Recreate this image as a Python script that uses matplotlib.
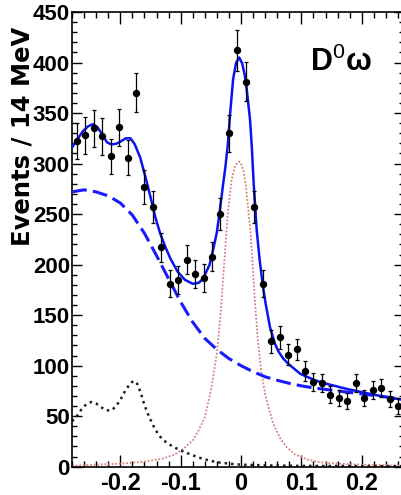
import numpy as np
import matplotlib
matplotlib.use('Agg')
import matplotlib.pyplot as plt
from matplotlib.ticker import MultipleLocator

# binned data, 14 MeV bins
bin_start = -0.272
bin_width = 0.014
counts = [322, 328, 335, 327, 307, 336, 306, 370, 277, 257,
          217, 181, 185, 205, 191, 187, 208, 250, 330, 412,
          381, 257, 181, 124, 128, 111, 116, 95, 84, 83,
          71, 68, 65, 83, 68, 76, 78, 67, 60]

# total fit (solid blue)
fit_x = [-0.280, -0.270, -0.262, -0.253, -0.245, -0.238, -0.230, -0.222, -0.215, -0.207,
         -0.199, -0.191, -0.183, -0.176, -0.167, -0.158, -0.150, -0.142, -0.134, -0.125,
         -0.117, -0.105, -0.093, -0.080, -0.070, -0.063, -0.052, -0.045, -0.040, -0.035,
         -0.030, -0.026, -0.022, -0.018, -0.013, -0.008, -0.003, 0.002, 0.006, 0.009,
         0.015, 0.018, 0.021, 0.026, 0.031, 0.036, 0.040, 0.048, 0.056, 0.062,
         0.070, 0.078, 0.086, 0.098, 0.109, 0.125, 0.142, 0.175, 0.214, 0.240, 0.270]
fit_y = [316, 325, 332, 337, 339, 336, 329, 321, 319, 319.5,
         322, 325, 325, 319, 306, 286, 267, 247, 231, 217,
         206, 193, 185, 181, 182, 186, 200, 218, 232, 254,
         278, 296, 318, 350, 384, 400, 405, 399, 388, 376,
         343, 315, 280, 234, 204, 180, 164, 138, 122, 114,
         107, 102, 98, 92, 89, 85, 82, 77, 72, 69, 66]

# combinatorial background (dashed blue)
bkg_x = [-0.28, -0.26, -0.24, -0.22, -0.20, -0.18, -0.16, -0.14, -0.12, -0.10,
         -0.08, -0.06, -0.04, -0.02, 0.00, 0.02, 0.04, 0.06, 0.08, 0.10,
         0.12, 0.14, 0.16, 0.18, 0.20, 0.22, 0.24, 0.27]
bkg_y = [272, 274, 272, 268, 261, 249, 231, 209, 186, 163,
         143, 127, 116, 107, 100, 94, 89, 85.5, 82.5, 80,
         78, 76.5, 75, 73.5, 72, 70.5, 69, 66.5]

# peaking background (black dotted)
peak_x = [-0.280, -0.272, -0.264, -0.256, -0.248, -0.240, -0.232, -0.224, -0.216, -0.208,
          -0.200, -0.192, -0.184, -0.178, -0.172, -0.166, -0.160, -0.152, -0.144, -0.136,
          -0.128, -0.120, -0.110, -0.100, -0.085, -0.070, -0.055, -0.040, -0.020, 0.000,
          0.050, 0.100, 0.270]
peak_y = [45, 50, 57, 62, 64, 62.5, 59, 56, 55.5, 59,
          66, 75, 82, 85, 82, 73, 61, 49, 39, 31,
          26, 22.5, 19, 16, 12.5, 9, 6.5, 4.5, 3, 2,
          1.2, 0.8, 0.5]

# signal (red dotted)
sig_x = [-0.280, -0.24, -0.20, -0.16, -0.13, -0.11, -0.095, -0.08, -0.07, -0.06,
         -0.05, -0.04, -0.034, -0.028, -0.022, -0.016, -0.010, -0.006, -0.003, 0.000,
         0.004, 0.008, 0.012, 0.016, 0.020, 0.024, 0.028, 0.034, 0.040, 0.046,
         0.053, 0.065, 0.076, 0.09, 0.11, 0.13, 0.16, 0.20, 0.27]
sig_y = [1, 2, 3, 5, 8, 12, 18, 26, 36, 49,
         75, 112, 150, 200, 250, 283, 297, 301, 302, 300,
         293, 278, 255, 230, 193, 155, 125, 92, 72, 58,
         43, 28, 19, 12, 7, 4.5, 3, 2, 1]

x_ticks = [-0.2, -0.1, 0, 0.1, 0.2]
x_tick_labels = ['-0.2', '-0.1', '0', '0.1', '0.2']

plt.rcParams['mathtext.fontset'] = 'custom'
plt.rcParams['mathtext.rm'] = 'Liberation Sans'
tick_font = ['Liberation Sans Narrow', 'Liberation Sans', 'DejaVu Sans']

W, H = 401, 495
fig = plt.figure(figsize=(W / 100, H / 100), dpi=100)
ax = fig.add_axes([72 / W, (H - 466.7) / H, 332 / W, (466.7 - 12) / H])

centers = bin_start + bin_width * np.arange(len(counts))
vals = np.array(counts, dtype=float)

ax.plot(sig_x, sig_y, color='#d9807f', lw=1.3, linestyle=(0, (1, 1)), zorder=2)
ax.plot(peak_x, peak_y, color='#202020', lw=1.8, linestyle=(0, (1, 1.6)), zorder=2)
ax.plot(bkg_x, bkg_y, color='#1a1aff', lw=2.2, linestyle=(0, (4.9, 2.0)), zorder=3)
ax.plot(fit_x, fit_y, color='#0a14f0', lw=1.8, zorder=4)
ax.errorbar(centers, vals, yerr=np.sqrt(vals), fmt='o', color='black', ms=4.3,
            elinewidth=0.9, capsize=1.6, capthick=0.9, zorder=5)

ax.set_xlim(-0.28, 0.27)
ax.set_ylim(0, 450)
ax.set_xticks(x_ticks)
ax.set_xticklabels(x_tick_labels)
ax.xaxis.set_minor_locator(MultipleLocator(0.02))
ax.yaxis.set_major_locator(MultipleLocator(50))
ax.yaxis.set_minor_locator(MultipleLocator(10))

ax.tick_params(axis='x', which='both', direction='in', top=True, bottom=True, pad=4)
ax.tick_params(axis='y', which='both', direction='in', left=True, right=True, pad=1.5)
ax.tick_params(axis='x', which='major', length=8.5, width=1)
ax.tick_params(axis='x', which='minor', length=4.5, width=1)
ax.tick_params(axis='y', which='major', length=7, width=1)
ax.tick_params(axis='y', which='minor', length=3.6, width=1)

for lab in ax.get_xticklabels():
    lab.set_family(tick_font)
    lab.set_fontweight('bold')
    lab.set_fontsize(17)
for lab in ax.get_yticklabels():
    lab.set_family(tick_font)
    lab.set_fontweight('bold')
    lab.set_fontsize(16)

for s in ax.spines.values():
    s.set_linewidth(1.2)

fig.text(23 / W, 1 - 136 / H, 'Events / 14 MeV', rotation=90, ha='center', va='center',
         fontsize=17.5, fontweight='bold', family=['DejaVu Sans'])
fig.text(341 / W, 1 - 62 / H, 'D$^0$ω', ha='center', va='center', fontsize=22,
         fontweight='bold', family=['Liberation Sans', 'DejaVu Sans'])

fig.savefig('out.png', dpi=100)
